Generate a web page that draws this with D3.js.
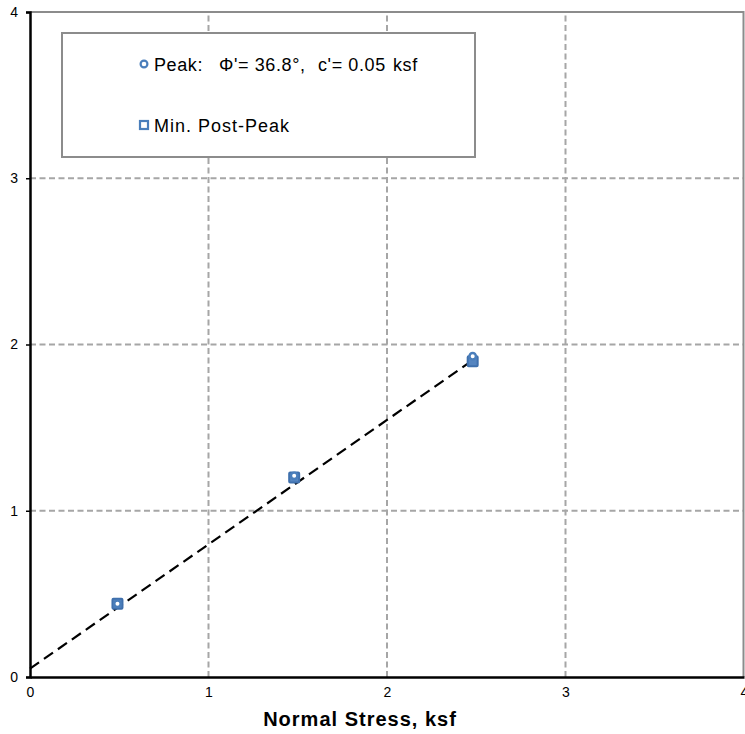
<!DOCTYPE html>
<html>
<head>
<meta charset="utf-8">
<script src="https://d3js.org/d3.v7.min.js"></script>
<style>
  body { margin: 0; background: #fff; }
  text { font-family: "Liberation Sans", Arial, sans-serif; }
</style>
</head>
<body>
<script>
// values
const xTicks = [0, 1, 2, 3, 4];
const yTicks = [0, 1, 2, 3, 4];
const peakX = [0.49, 1.48, 2.48];
const peakY = [0.44, 1.21, 1.93];
const postX = [0.49, 1.48, 2.48];
const postY = [0.44, 1.20, 1.90];
const fitX = [0, 2.5];
const phi = 36.8, cohesion = 0.05;

const W = 745, H = 734;
const margin = {top: 12, right: 1, bottom: 57, left: 30};

const svg = d3.select("body").append("svg")
  .attr("width", W).attr("height", H);

const x = d3.scaleLinear().domain([0, 4]).range([margin.left, W - margin.right]);
const y = d3.scaleLinear().domain([0, 4]).range([H - margin.bottom, margin.top]);

// gridlines
const gridCol = "#a6a6a6";
svg.append("g").selectAll("line").data(xTicks.slice(1, 4)).join("line")
  .attr("x1", d => x(d)).attr("x2", d => x(d))
  .attr("y1", y(0)).attr("y2", y(4))
  .attr("stroke", gridCol).attr("stroke-width", 2).attr("stroke-dasharray", "6,3.5");
svg.append("g").selectAll("line").data(yTicks.slice(1, 4)).join("line")
  .attr("x1", x(0)).attr("x2", x(4))
  .attr("y1", d => y(d)).attr("y2", d => y(d))
  .attr("stroke", gridCol).attr("stroke-width", 2).attr("stroke-dasharray", "6,3.5");

// top and right border
svg.append("path")
  .attr("d", `M${x(0)},${y(4)}H${x(4) - 0.5}V${y(0)}`)
  .attr("fill", "none").attr("stroke", "#8c8c8c").attr("stroke-width", 2);

// axes
const xAxis = svg.append("g")
  .attr("transform", `translate(0,${y(0)})`)
  .call(d3.axisBottom(x).tickValues(xTicks).tickSize(0).tickPadding(10).tickFormat(d3.format("d")));
const yAxis = svg.append("g")
  .attr("transform", `translate(${x(0)},0)`)
  .call(d3.axisLeft(y).tickValues(yTicks).tickSize(4).tickPadding(8).tickFormat(d3.format("d")));
[xAxis, yAxis].forEach(a => {
  a.select(".domain").attr("stroke", "#000").attr("stroke-width", 2.5);
  a.selectAll(".tick line").attr("stroke", "#000").attr("stroke-width", 1.5);
  a.selectAll("text").attr("font-size", 14).attr("fill", "#000")
    .attr("font-family", "Liberation Sans, Arial, sans-serif");
});

// fitted envelope
const fitLine = d3.line().x(d => x(d)).y(d => y(cohesion + d * Math.tan(phi * Math.PI / 180)));
svg.append("path").datum(fitX).attr("d", fitLine)
  .attr("fill", "none").attr("stroke", "#000").attr("stroke-width", 2.2)
  .attr("stroke-dasharray", "11,6");

// markers
const blue = "#4a7ebb";
svg.append("g").selectAll("rect").data(postX.map((d, i) => [d, postY[i]])).join("rect")
  .attr("x", d => x(d[0]) - 5).attr("y", d => y(d[1]) - 5)
  .attr("width", 10).attr("height", 10).attr("rx", 1)
  .attr("fill", "#5585c0").attr("stroke", "#3f70ad").attr("stroke-width", 2);
svg.append("g").selectAll("circle").data(peakX.map((d, i) => [d, peakY[i]])).join("circle")
  .attr("cx", d => x(d[0])).attr("cy", d => y(d[1])).attr("r", 3.2)
  .attr("fill", "#fff").attr("stroke", blue).attr("stroke-width", 2.4);

// legend
const lg = svg.append("g");
lg.append("rect").attr("x", 62).attr("y", 33).attr("width", 413).attr("height", 124)
  .attr("fill", "#fff").attr("stroke", "#8c8c8c").attr("stroke-width", 2);
lg.append("circle").attr("cx", 144).attr("cy", 64).attr("r", 3.4)
  .attr("fill", "#fff").attr("stroke", blue).attr("stroke-width", 2.2);
lg.append("rect").attr("x", 140).attr("y", 121).attr("width", 8).attr("height", 8)
  .attr("fill", "#fff").attr("stroke", blue).attr("stroke-width", 2.2);
const peakText = lg.append("text").attr("y", 71).attr("font-size", 18).attr("letter-spacing", 0.6);
peakText.append("tspan").attr("x", 154).text("Peak:");
peakText.append("tspan").attr("x", 219).text("\u03A6'= 36.8\u00B0,");
peakText.append("tspan").attr("x", 318).text("c'= 0.05");
peakText.append("tspan").attr("x", 393).text("ksf");
lg.append("text").attr("x", 154).attr("y", 132).attr("font-size", 18).attr("letter-spacing", 1)
  .text("Min. Post-Peak");

// x title
svg.append("text").attr("x", 360).attr("y", 726).attr("text-anchor", "middle")
  .attr("font-size", 20).attr("font-weight", "bold").attr("letter-spacing", 1)
  .text("Normal Stress, ksf");
</script>
</body>
</html>
